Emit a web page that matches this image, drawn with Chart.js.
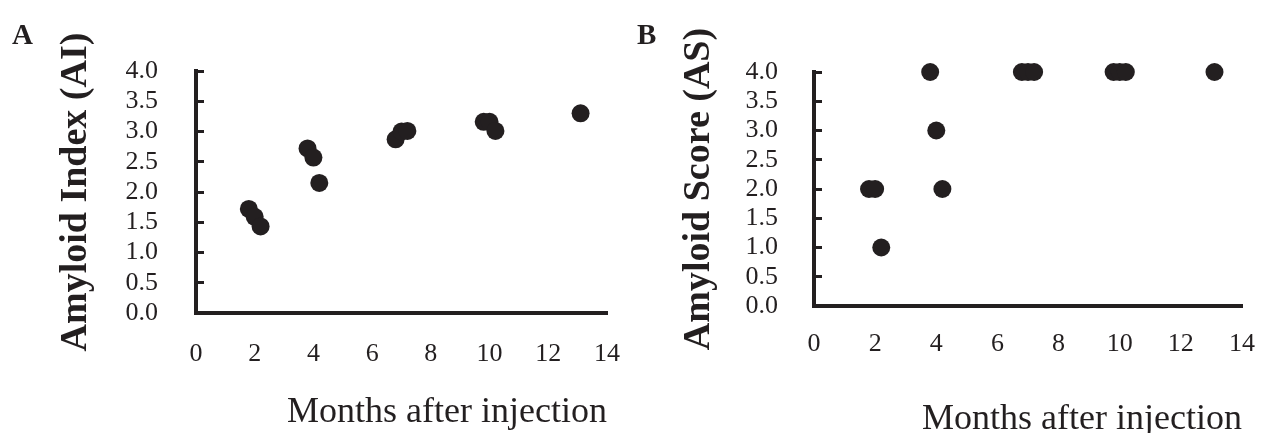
<!DOCTYPE html>
<html>
<head>
<meta charset="utf-8">
<script src="https://cdn.jsdelivr.net/npm/chart.js@4.4.1/dist/chart.umd.min.js"></script>
<style>
  body { margin: 0; background: #fff; }
  #wrap { position: relative; width: 1261px; height: 433px; overflow: hidden; }
  .panel { position: absolute; top: 0; }
  .tag { position: absolute; top: 20px; font: bold 29px 'Liberation Serif', serif; line-height: 1; color: #231f20; }
</style>
</head>
<body>
<div id="wrap">
  <canvas id="chartA" class="panel" style="left:0" width="630" height="433"></canvas>
  <canvas id="chartB" class="panel" style="left:630px" width="631" height="433"></canvas>
  <div class="tag" style="left:12px">A</div>
  <div class="tag" style="left:637px">B</div>
</div>
<script>
// months after injection, same animals in both panels
var months = [1.8, 2.0, 2.2, 3.8, 4.0, 4.2, 6.8, 7.0, 7.2, 9.8, 10.0, 10.2, 13.1];
var amyloidIndex = [1.72, 1.59, 1.43, 2.72, 2.57, 2.15, 2.87, 3.0, 3.01, 3.16, 3.16, 3.01, 3.30];
var amyloidScore = [2, 2, 1, 4, 3, 2, 4, 4, 4, 4, 4, 4, 4];
var xTicks = [0, 2, 4, 6, 8, 10, 12, 14];
var yTicks = [0, 0.5, 1, 1.5, 2, 2.5, 3, 3.5, 4];

var ink = "#231f20";
var serif = "'Liberation Serif', 'Times New Roman', serif";

function pts(ys) {
    var out = [];
    for (var i = 0; i < months.length; i++) {
        out.push({x: months[i], y: ys[i]});
    }
    return out;
}

function makeChart(id, ys, yTitle, o) {
    return new Chart(document.getElementById(id), {
        type: "scatter",
        data: {
            datasets: [{
                data: pts(ys),
                pointRadius: 9,
                pointHoverRadius: 9,
                backgroundColor: ink,
                borderColor: ink,
                borderWidth: 0,
                clip: false
            }]
        },
        options: {
            responsive: false,
            animation: false,
            events: [],
            layout: {padding: {top: o.top, right: o.right, left: 0, bottom: 0}},
            plugins: {legend: {display: false}, tooltip: {enabled: false}},
            scales: {
                x: {
                    type: "linear",
                    min: 0,
                    max: 14,
                    afterBuildTicks: function(s) { s.ticks = xTicks.map(function(v) { return {value: v}; }); },
                    afterFit: function(s) {
                        s.height = 433 - o.bottom;
                        // labels may hang past the axis ends, like the original
                        s.paddingLeft = 0;
                        s.paddingRight = 0;
                    },
                    grid: {display: false},
                    border: {display: true, color: ink, width: 4},
                    ticks: {color: ink, font: {family: serif, size: 26}, padding: o.xPad, maxRotation: 0, autoSkip: false},
                    title: {display: true, text: "Months after injection", color: ink, align: "end",
                            font: {family: serif, size: 36}, padding: {top: 0, bottom: o.xTitlePad}}
                },
                y: {
                    type: "linear",
                    min: 0,
                    max: 4,
                    afterBuildTicks: function(s) { s.ticks = yTicks.map(function(v) { return {value: v}; }); },
                    afterFit: function(s) { s.width = o.left; },
                    grid: {display: true, drawOnChartArea: false, drawTicks: true, tickLength: -8, tickWidth: 3, tickColor: ink, color: ink},
                    border: {display: true, color: ink, width: 4},
                    ticks: {color: ink, font: {family: serif, size: 26}, padding: o.yPad, autoSkip: false,
                            callback: function(v) { return Number(v).toFixed(1); }},
                    title: {display: true, text: yTitle, color: ink,
                            font: {family: serif, size: 38, weight: "bold"}, padding: {top: o.yTitlePad, bottom: 0}}
                }
            }
        }
    });
}

makeChart("chartA", amyloidIndex, "Amyloid Index (AI)",
    {top: 71, right: 23, left: 196, bottom: 313, xPad: 18, xTitlePad: -1, yPad: 46, yTitlePad: 53});
makeChart("chartB", amyloidScore, "Amyloid Score (AS)",
    {top: 72, right: 19, left: 184, bottom: 306, xPad: 15, xTitlePad: -8, yPad: 44, yTitlePad: 46});
</script>
</body>
</html>
